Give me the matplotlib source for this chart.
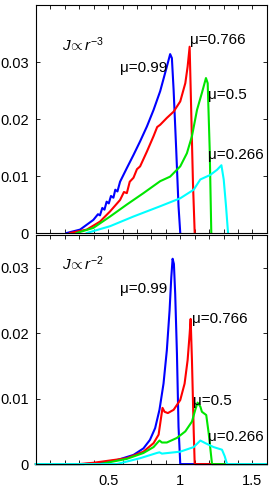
import numpy as np
import matplotlib
matplotlib.use('Agg')
import matplotlib.pyplot as plt

plt.rcParams['font.family'] = ['Liberation Sans', 'DejaVu Sans']
plt.rcParams['mathtext.fontset'] = 'custom'
plt.rcParams['mathtext.rm'] = 'Liberation Sans'
plt.rcParams['mathtext.it'] = 'Liberation Sans:italic'

# ---- top panel: J ~ r^-3 ----
x3_b = [0.213, 0.306, 0.398, 0.43, 0.444, 0.46, 0.475, 0.49, 0.505, 0.52, 0.537, 0.55, 0.565, 0.583,
        0.63, 0.676, 0.722, 0.769, 0.815, 0.861, 0.907, 0.93, 0.942, 0.954, 0.972, 0.988, 1.0]
y3_b = [0, 0.0006, 0.0023, 0.0033, 0.0031, 0.0044, 0.0041, 0.0055, 0.0052, 0.0065, 0.0062, 0.0076, 0.0073, 0.0090,
        0.0114, 0.0137, 0.0161, 0.0187, 0.0216, 0.0249, 0.0292, 0.0314, 0.0307, 0.0251, 0.0146, 0.0047, 0]

x3_r = [0.236, 0.352, 0.444, 0.514, 0.583, 0.61, 0.63, 0.65, 0.676, 0.70, 0.722, 0.769, 0.815, 0.84, 0.861,
        0.907, 0.954, 1.0, 1.035, 1.051, 1.065, 1.074, 1.088, 1.1]
y3_r = [0, 0.0006, 0.0020, 0.0038, 0.0058, 0.0072, 0.0070, 0.0090, 0.0097, 0.0112, 0.0117, 0.0143, 0.0170, 0.0186, 0.0190,
        0.0202, 0.0213, 0.0231, 0.0263, 0.0292, 0.0327, 0.0234, 0.0088, 0]

x3_g = [0.282, 0.398, 0.514, 0.63, 0.745, 0.861, 0.93, 1.0, 1.046, 1.081, 1.116, 1.15, 1.178, 1.19, 1.204, 1.215]
y3_g = [0, 0.0009, 0.0029, 0.0050, 0.0070, 0.0091, 0.0099, 0.0117, 0.0140, 0.0170, 0.0216, 0.0246, 0.0272, 0.0263, 0.0146, 0]

x3_c = [0.352, 0.514, 0.676, 0.861, 1.0, 1.093, 1.139, 1.208, 1.255, 1.285, 1.301, 1.317, 1.331]
y3_c = [0, 0.0012, 0.0029, 0.0047, 0.0061, 0.0076, 0.0094, 0.0102, 0.0111, 0.0119, 0.0094, 0.0047, 0]

# ---- bottom panel: J ~ r^-2 ----
x2_b = [0, 0.33, 0.444, 0.56, 0.676, 0.745, 0.79, 0.826, 0.856, 0.884, 0.907, 0.926, 0.938, 0.947,
        0.956, 0.965, 0.977, 0.988, 1.0, 1.6]
y2_b = [0, 0, 0.0002, 0.0006, 0.0014, 0.0024, 0.0037, 0.0055, 0.0083, 0.0123, 0.0174, 0.0235, 0.0286, 0.0314,
        0.0306, 0.0260, 0.0169, 0.0057, 0, 0]

x2_r = [0, 0.30, 0.398, 0.63, 0.745, 0.815, 0.85, 0.877, 0.891, 0.914, 0.954, 1.0, 1.03, 1.051, 1.065,
        1.072, 1.081, 1.093, 1.1, 1.6]
y2_r = [0, 0, 0.0002, 0.0009, 0.0019, 0.0032, 0.0045, 0.0086, 0.0080, 0.0078, 0.0083, 0.0098, 0.0123, 0.0159, 0.0199,
        0.0222, 0.0159, 0.0052, 0, 0]

x2_g = [0, 0.444, 0.63, 0.745, 0.815, 0.843, 0.856, 0.873, 0.907, 0.977, 1.035, 1.081, 1.104, 1.12, 1.139,
        1.15, 1.18, 1.197, 1.22, 1.6]
y2_g = [0, 0, 0.0008, 0.0017, 0.0026, 0.0033, 0.0036, 0.0033, 0.0033, 0.0040, 0.0050, 0.0065, 0.0083, 0.0094, 0.0088,
        0.0080, 0.0075, 0.0047, 0, 0]

x2_c = [0, 0.56, 0.722, 0.838, 0.856, 0.873, 1.0, 1.093, 1.139, 1.174, 1.231, 1.289, 1.308, 1.324, 1.6]
y2_c = [0, 0, 0.0009, 0.0017, 0.0018, 0.0016, 0.0019, 0.0026, 0.0036, 0.0032, 0.0026, 0.0022, 0.0012, 0, 0]

colors = ['#0000ff', '#ff0000', '#00e600', '#00ffff']
mu_labels = ['\u03bc=0.99', '\u03bc=0.766', '\u03bc=0.5', '\u03bc=0.266']

fig = plt.figure(figsize=(2.74, 4.88), dpi=100)
ax1 = fig.add_axes([0.131, 0.5225, 0.843, 0.467])
ax2 = fig.add_axes([0.131, 0.049, 0.843, 0.469])

top = [(x3_b, y3_b), (x3_r, y3_r), (x3_g, y3_g), (x3_c, y3_c)]
bot = [(x2_b, y2_b), (x2_r, y2_r), (x2_g, y2_g), (x2_c, y2_c)]

for (x, y), c in zip(top, colors):
    ax1.plot(x, y, color=c, lw=1.5)
for (x, y), c in zip(bot, colors):
    ax2.plot(x, y, color=c, lw=1.5, clip_on=False)

ax1.set_ylim(0, 0.04)
ax2.set_ylim(0, 0.035)

for ax in (ax1, ax2):
    ax.set_xlim(0, 1.6)
    ax.set_xticks(np.arange(0, 1.61, 0.1))
    ax.set_yticks([0, 0.01, 0.02, 0.03])
    ax.set_yticklabels(['0', '0.01', '0.02', '0.03'])
    ax.tick_params(direction='in', top=True, right=True, length=3, width=0.6,
                   labelsize=10.5, pad=5)
    for s in ax.spines.values():
        s.set_linewidth(0.8)
        s.set_zorder(3)

ax1.set_xticklabels([])
xl = ['' for _ in range(17)]
xl[5] = '0.5'
xl[10] = '1'
xl[15] = '1.5'
ax2.set_xticklabels(xl)
ax2.tick_params(axis='x', pad=7)

fs = 11
ax1.text(0.18, 0.033, r'$J\!\propto r^{-3}$', fontsize=fs, va='center')
ax1.text(0.58, 0.029, mu_labels[0], fontsize=fs, va='center')
ax1.text(1.07, 0.0339, mu_labels[1], fontsize=fs, va='center')
ax1.text(1.19, 0.0242, mu_labels[2], fontsize=fs, va='center')
ax1.text(1.195, 0.0137, mu_labels[3], fontsize=fs, va='center')

ax2.text(0.18, 0.0306, r'$J\!\propto r^{-2}$', fontsize=fs, va='center')
ax2.text(0.58, 0.0268, mu_labels[0], fontsize=fs, va='center')
ax2.text(1.08, 0.0222, mu_labels[1], fontsize=fs, va='center')
ax2.text(1.09, 0.0097, mu_labels[2], fontsize=fs, va='center')
ax2.text(1.195, 0.0041, mu_labels[3], fontsize=fs, va='center')

fig.savefig('out.png', dpi=100)
